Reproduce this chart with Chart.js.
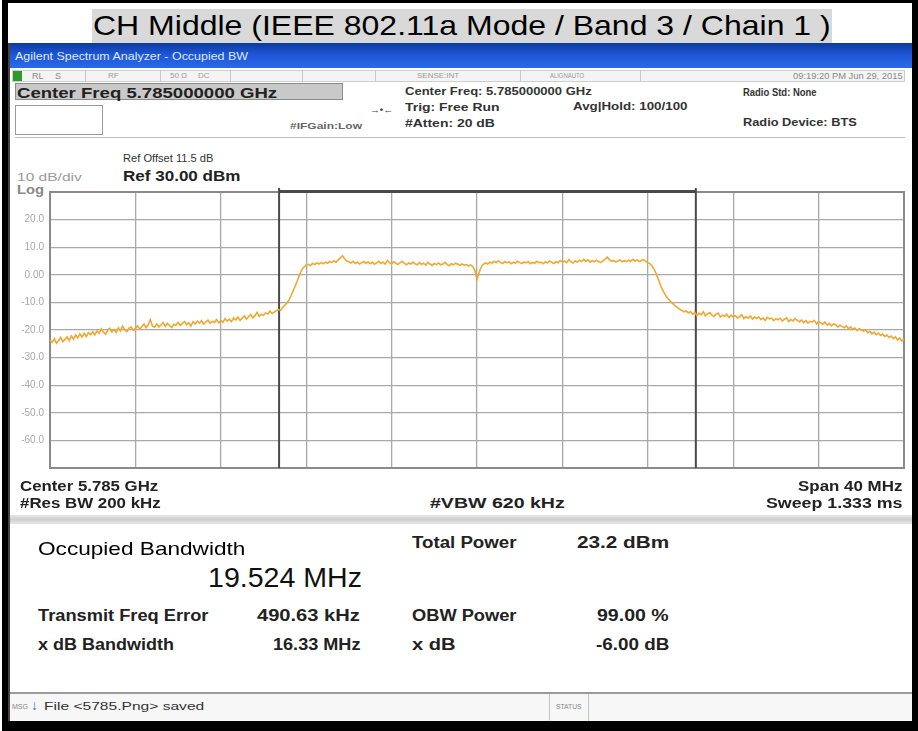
<!DOCTYPE html>
<html><head><meta charset="utf-8">
<script src="https://cdn.jsdelivr.net/npm/chart.js@4/dist/chart.umd.min.js"></script>
<style>
html,body{margin:0;padding:0;width:918px;height:731px;overflow:hidden;background:#fff;font-family:"Liberation Sans",Arial,sans-serif;}
.abs{position:absolute;box-sizing:border-box;}
.t{position:absolute;white-space:nowrap;line-height:1;transform-origin:0 50%;}
.b{font-weight:bold;}
</style></head><body>
<script>
// ---- data ----
const sweepStartMHz = -20;   // offset from centre 5.785 GHz
const sweepStopMHz = 20;
const obwEdges = [-9.27, 10.25];          // OBW marker lines, MHz offset
const yTickValues = [20, 10, 0, -10, -20, -30, -40, -50, -60];
const yTickLabels = ['20.0', '10.0', '0.00', '-10.0', '-20.0', '-30.0', '-40.0', '-50.0', '-60.0'];
const traceDbm = [
-23.6,-24.5,-23.1,-24.8,-23.9,-22.7,-24.2,-23.4,-22.5,-23.8,
-22.1,-23.3,-21.8,-22.9,-21.4,-22.6,-21.2,-22.4,-20.9,-21.7,
-20.6,-21.8,-20.3,-21.2,-19.6,-20.8,-21.5,-20.1,-19.4,-20.7,
-19.8,-20.9,-19.2,-20.4,-18.6,-19.9,-20.6,-19.3,-18.9,-20.1,
-19.4,-18.5,-19.7,-18.8,-17.9,-19.2,-18.1,-16.2,-18.6,-19.0,
-17.8,-18.9,-18.2,-17.3,-18.7,-17.6,-18.4,-19.1,-17.9,-18.3,
-17.2,-18.3,-17.7,-16.9,-18.1,-17.4,-18.6,-17.0,-17.8,-16.8,
-17.5,-16.6,-17.9,-17.1,-16.4,-17.6,-16.9,-17.3,-16.2,-17.4,
-16.6,-17.2,-15.9,-16.8,-16.1,-17.0,-15.6,-16.4,-15.3,-16.5,
-15.8,-14.9,-16.1,-15.2,-14.4,-15.6,-14.8,-13.6,-15.1,-14.3,
-14.7,-13.8,-14.2,-13.1,-14.0,-13.5,
-13.0,-12.6,-12.9,-11.8,-11.0,-10.2,-9.0,-7.4,-5.6,-3.8,-1.9,0.2,1.9,2.9,3.5,
3.8,3.4,4.1,3.7,4.3,3.9,4.5,4.0,4.6,4.2,
4.8,4.4,5.1,4.6,5.4,6.1,6.9,5.8,5.0,4.7,
4.3,4.9,4.1,4.6,3.9,4.4,4.8,4.2,4.7,4.0,
4.5,3.8,4.3,4.9,4.1,4.6,3.9,5.2,4.4,4.0,
4.7,4.2,3.7,4.4,4.9,4.1,3.6,4.3,3.9,4.6,
4.0,3.6,4.4,3.8,4.2,3.5,4.5,3.9,3.4,4.1,
3.7,4.3,3.6,3.9,4.5,3.7,3.3,4.0,3.6,4.2,
3.8,3.4,3.9,3.5,3.7,3.2,3.6,3.0,1.6,-1.7,
0.8,2.9,3.8,4.3,3.9,4.6,4.2,4.9,4.4,5.1,
4.5,4.1,4.8,4.3,4.7,4.0,4.6,4.2,4.9,4.4,
4.1,4.7,4.3,4.8,4.0,4.5,4.2,4.9,4.4,4.6,
4.0,4.7,4.3,5.0,4.5,4.1,4.8,4.4,5.2,4.6,
5.0,4.4,5.5,4.7,4.3,5.1,4.6,5.3,4.8,5.6,
4.9,5.4,4.6,5.1,4.7,5.3,4.8,4.4,5.0,5.7,
6.4,5.5,4.9,5.2,4.6,5.0,5.4,4.7,5.1,4.8,
5.3,4.9,5.6,5.0,5.4,4.8,5.2,5.5,4.9,
4.4,4.0,3.2,2.0,0.3,-1.8,-3.9,-5.6,-7.0,-8.2,
-9.1,-10.0,-10.6,-11.4,-11.9,-12.6,-12.9,-13.4,-13.1,-13.8,-13.3,
-14.3,-13.6,-14.8,-13.9,-14.5,-13.4,-14.9,-14.1,-13.7,-14.6,
-15.1,-14.2,-13.9,-15.3,-14.6,-15.0,-14.3,-15.5,-14.7,-15.2,
-14.8,-15.6,-15.1,-14.5,-15.9,-15.2,-15.7,-14.9,-16.0,-15.3,
-15.8,-15.2,-16.2,-15.6,-16.5,-15.4,-16.0,-15.7,-16.6,-15.9,
-16.3,-15.7,-16.8,-16.1,-15.6,-16.9,-16.2,-16.7,-15.9,-16.5,
-17.0,-16.4,-17.3,-16.6,-17.5,-16.9,-17.1,-16.5,-17.7,-17.0,
-17.4,-17.9,-17.1,-18.2,-17.6,-18.5,-17.8,-18.1,-18.9,-18.3,
-18.7,-19.2,-18.5,-19.6,-18.9,-19.8,-19.3,-20.2,-19.5,-20.0,
-20.4,-19.9,-21.0,-20.5,-21.4,-20.8,-21.7,-21.1,-22.0,-21.5,
-22.3,-21.8,-22.7,-22.2,-23.1,-22.5,-23.6,-22.9,-24.0,-23.3
];
</script>

<!-- outer frame -->
<div class="abs" style="left:2px;top:0;width:916px;height:731px;border-top:3px solid #000;border-left:6px solid #000;border-right:6px solid #000;border-bottom:10px solid #000;"></div>
<!-- title -->
<div class="abs" style="left:92px;top:9px;width:740px;height:34px;background:#d9d9d9;"></div>
<div class="t" style="left:93px;top:26px;font-size:28px;color:#000;" data-w="737">CH Middle (IEEE 802.11a Mode / Band 3 / Chain 1 )</div>

<!-- screenshot -->
<div class="abs" style="left:8px;top:43px;width:904px;height:678px;background:#fff;border-left:2px solid #444;"></div>
<div class="abs" style="left:10px;top:43px;width:902px;height:25px;background:linear-gradient(#0c3a9c,#1d55d6 45%,#2a6ae8);"></div>
<div class="t" style="left:15px;top:56px;font-size:11px;color:#dde8ff;" data-w="233">Agilent Spectrum Analyzer - Occupied BW</div>

<!-- status row -->
<div class="abs" style="left:12px;top:70px;width:893px;height:12px;background:#f4f4f4;border:1px solid #cfcfcf;"></div>
<div class="abs" style="left:13px;top:71px;width:9px;height:10px;background:#2e9a2e;"></div>
<div class="abs" style="left:85px;top:70px;width:1px;height:12px;background:#c8c8c8;"></div>
<div class="abs" style="left:160px;top:70px;width:1px;height:12px;background:#c8c8c8;"></div>
<div class="abs" style="left:230px;top:70px;width:1px;height:12px;background:#c8c8c8;"></div>
<div class="abs" style="left:302px;top:70px;width:1px;height:12px;background:#c8c8c8;"></div>
<div class="abs" style="left:375px;top:70px;width:1px;height:12px;background:#c8c8c8;"></div>
<div class="abs" style="left:520px;top:70px;width:1px;height:12px;background:#c8c8c8;"></div>
<div class="abs" style="left:640px;top:70px;width:1px;height:12px;background:#c8c8c8;"></div>
<div class="t" style="left:32px;top:76px;font-size:9px;color:#888;">RL</div>
<div class="t" style="left:55px;top:76px;font-size:9px;color:#888;">S</div>
<div class="t" style="left:108px;top:76px;font-size:8px;color:#999;">RF</div>
<div class="t" style="left:170px;top:76px;font-size:8px;color:#999;">50 Ω</div>
<div class="t" style="left:198px;top:76px;font-size:8px;color:#999;">DC</div>
<div class="t" style="left:417px;top:76px;font-size:8px;color:#999;" data-w="42">SENSE:INT</div>
<div class="t" style="left:550px;top:76px;font-size:8px;color:#999;" data-w="34">ALIGNAUTO</div>
<div class="t" style="left:793px;top:76px;font-size:9px;color:#888;" data-w="110">09:19:20 PM Jun 29, 2015</div>

<!-- centre freq box -->
<div class="abs" style="left:15px;top:83px;width:328px;height:17px;background:#c9c9c9;border:1px solid #8c8c8c;"></div>
<div class="t b" style="left:17px;top:92px;font-size:15px;color:#222;" data-w="260">Center Freq 5.785000000 GHz</div>
<div class="abs" style="left:15px;top:105px;width:88px;height:30px;background:#fff;border:1px solid #9a9a9a;"></div>
<div class="t b" style="left:290px;top:126px;font-size:9px;color:#666;" data-w="72">#IFGain:Low</div>
<div class="t b" style="left:370px;top:110px;font-size:9px;color:#444;" data-w="23">→•←</div>
<div class="t b" style="left:405px;top:91px;font-size:11px;color:#333;" data-w="187">Center Freq: 5.785000000 GHz</div>
<div class="t b" style="left:405px;top:107px;font-size:11px;color:#333;" data-w="95">Trig: Free Run</div>
<div class="t b" style="left:405px;top:123px;font-size:11px;color:#333;" data-w="90">#Atten: 20 dB</div>
<div class="t b" style="left:573px;top:106px;font-size:11px;color:#333;" data-w="114">Avg|Hold: 100/100</div>
<div class="t b" style="left:743px;top:92px;font-size:11px;color:#333;" data-w="74">Radio Std: None</div>
<div class="t b" style="left:743px;top:122px;font-size:11px;color:#333;" data-w="114">Radio Device: BTS</div>
<div class="abs" style="left:15px;top:137px;width:890px;height:1px;background:#bdbdbd;"></div>

<div class="t" style="left:123px;top:158px;font-size:11px;color:#333;" data-w="90">Ref Offset 11.5 dB</div>
<div class="t b" style="left:123px;top:175px;font-size:15px;color:#222;" data-w="117">Ref 30.00 dBm</div>
<div class="t" style="left:17px;top:177px;font-size:11px;color:#999;" data-w="65">10 dB/div</div>
<div class="t b" style="left:17px;top:190px;font-size:12px;color:#888;" data-w="27">Log</div>

<canvas id="c" width="900" height="300" style="position:absolute;left:10px;top:180px;"></canvas>

<!-- under plot -->
<div class="t b" style="left:20px;top:486px;font-size:14px;color:#222;" data-w="138">Center 5.785 GHz</div>
<div class="t b" style="left:20px;top:503px;font-size:14px;color:#222;" data-w="141">#Res BW 200 kHz</div>
<div class="t b" style="left:430px;top:503px;font-size:14px;color:#222;" data-w="134">#VBW 620 kHz</div>
<div class="t b" style="left:798px;top:486px;font-size:14px;color:#222;" data-w="104">Span 40 MHz</div>
<div class="t b" style="left:766px;top:503px;font-size:14px;color:#222;" data-w="136">Sweep 1.333 ms</div>
<div class="abs" style="left:10px;top:515px;width:902px;height:9px;background:linear-gradient(#e8e8e8,#cfcfcf,#e8e8e8);"></div>

<div class="t" style="left:38px;top:548px;font-size:19px;color:#000;" data-w="207">Occupied Bandwidth</div>
<div class="t b" style="left:412px;top:543px;font-size:16px;color:#222;" data-w="105">Total Power</div>
<div class="t b" style="left:577px;top:543px;font-size:16px;color:#222;" data-w="92">23.2 dBm</div>
<div class="t" style="left:208px;top:578px;font-size:28px;color:#111;" data-w="154">19.524 MHz</div>
<div class="t b" style="left:38px;top:616px;font-size:16px;color:#222;" data-w="170">Transmit Freq Error</div>
<div class="t b" style="left:257px;top:616px;font-size:16px;color:#222;" data-w="103">490.63 kHz</div>
<div class="t b" style="left:412px;top:616px;font-size:16px;color:#222;" data-w="105">OBW Power</div>
<div class="t b" style="left:597px;top:616px;font-size:16px;color:#222;" data-w="72">99.00 %</div>
<div class="t b" style="left:38px;top:645px;font-size:16px;color:#222;" data-w="136">x dB Bandwidth</div>
<div class="t b" style="left:273px;top:645px;font-size:16px;color:#222;" data-w="87">16.33 MHz</div>
<div class="t b" style="left:412px;top:645px;font-size:16px;color:#222;" data-w="44">x dB</div>
<div class="t b" style="left:596px;top:645px;font-size:16px;color:#222;" data-w="73">-6.00 dB</div>

<!-- status bar -->
<div class="abs" style="left:10px;top:692px;width:902px;height:29px;background:#f7f7f7;border-top:2px solid #9a9a9a;"></div>
<div class="abs" style="left:549px;top:694px;width:1px;height:27px;background:#c4c4c4;"></div>
<div class="abs" style="left:588px;top:694px;width:1px;height:27px;background:#c4c4c4;"></div>
<div class="t" style="left:12px;top:706px;font-size:7px;color:#888;" data-w="16">MSG</div>
<div class="t b" style="left:31px;top:705px;font-size:14px;color:#3a7ad8;">↓</div>
<div class="t" style="left:44px;top:706px;font-size:11px;color:#333;" data-w="160">File &lt;5785.Png&gt; saved</div>
<div class="t" style="left:556px;top:706px;font-size:7px;color:#888;" data-w="26">STATUS</div>

<script>
// fit text widths
document.querySelectorAll('.t').forEach(el => {
  const w = parseFloat(el.dataset.w || 0);
  const s = w ? w / el.offsetWidth : 1;
  el.style.transform = 'translateY(-50%) scaleX(' + s.toFixed(3) + ')';
});

const step = (sweepStopMHz - sweepStartMHz) / (traceDbm.length - 1);
const points = traceDbm.map((v, i) => ({ x: sweepStartMHz + i * step, y: v }));

const overlay = {
  id: 'overlay',
  beforeDatasetsDraw(chart) {
    const { ctx, chartArea: a, scales: { x } } = chart;
    ctx.save();
    ctx.strokeStyle = '#8a8a8a'; ctx.lineWidth = 2;
    ctx.strokeRect(a.left, a.top, a.right - a.left, a.bottom - a.top);
    const px = obwEdges.map(f => x.getPixelForValue(f));
    ctx.strokeStyle = '#4a4a4a'; ctx.lineWidth = 2;
    px.forEach(p => { ctx.beginPath(); ctx.moveTo(p, a.top - 4); ctx.lineTo(p, a.bottom); ctx.stroke(); });
    ctx.lineWidth = 3;
    ctx.beginPath(); ctx.moveTo(px[0], a.top - 0.5); ctx.lineTo(px[1], a.top - 0.5); ctx.stroke();
    ctx.restore();
  }
};

new Chart(document.getElementById('c'), {
  type: 'line',
  data: { datasets: [{ data: points, borderColor: '#efa832', borderWidth: 1.6, pointRadius: 0, tension: 0, fill: false }] },
  options: {
    responsive: false, animation: false, devicePixelRatio: 1,
    layout: { padding: { left: 0, right: 6, top: 6, bottom: 7 } },
    plugins: { legend: { display: false }, tooltip: { enabled: false } },
    scales: {
      x: { type: 'linear', min: sweepStartMHz, max: sweepStopMHz,
           ticks: { display: false, stepSize: 4 },
           grid: { color: '#a9a9a9', lineWidth: 1.3, drawTicks: false },
           border: { display: false },
           afterFit(s) { s.height = 0; } },
      y: { min: -70, max: 30,
           ticks: { stepSize: 10, color: '#a8a8a8', padding: 6,
                    font: { size: 10, family: 'Liberation Sans' },
                    callback: v => { const i = yTickValues.indexOf(v); return i >= 0 ? yTickLabels[i] : ''; } },
           grid: { color: '#a9a9a9', lineWidth: 1.3, drawTicks: false },
           border: { display: false },
           afterFit(s) { s.width = 40; } }
    }
  },
  plugins: [overlay]
});
</script>
</body></html>
